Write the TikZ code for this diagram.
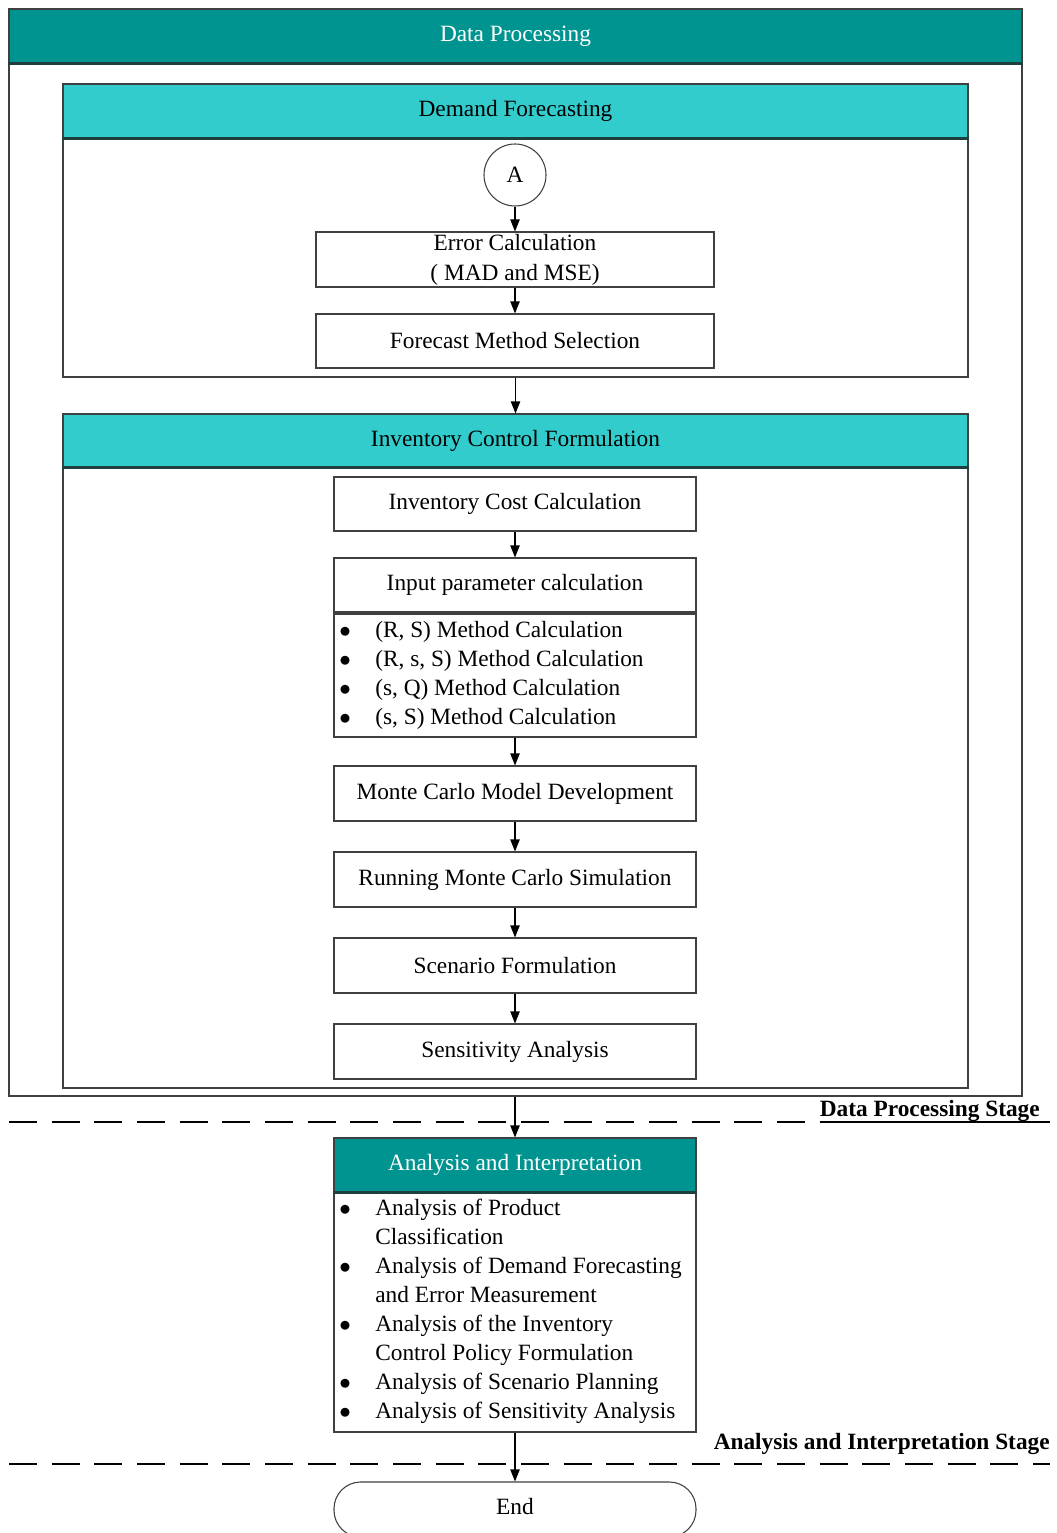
\documentclass[tikz,border=0pt]{standalone}
\usepackage{fontspec}
\setmainfont{Liberation Serif}
\usetikzlibrary{arrows.meta,fit}
\definecolor{tealdark}{HTML}{009490}
\definecolor{teallight}{HTML}{33CCCC}
\definecolor{hdrline}{HTML}{1F3F3F}
\begin{document}
\begin{tikzpicture}[x=0.75pt,y=-0.75pt,
  font=\fontsize{17.5}{21.75}\selectfont,
  frame/.style={draw=black!75, line width=0.8pt, inner sep=0pt},
  box/.style={frame, fill=white},
  txt/.style={label={[align=center]center:#1}},
  wtxt/.style={label={[text=white]center:#1}},
  hdark/.style={frame, fill=tealdark},
  hlight/.style={frame, fill=teallight},
  hline/.style={draw=hdrline, line width=2pt},
  arr/.style={-{Triangle[length=9pt,width=7pt]}, line width=0.8pt, black},
  stagebar/.style={dash pattern=on 21pt off 11pt, line width=1.5pt},
  stagelbl/.style={font=\fontsize{17.5}{21}\selectfont\bfseries, inner sep=0pt}]

\useasboundingbox[fill=white] (0,0) rectangle (1056,1533);

% Data processing container
\node[frame, fit={(9,9)(1022,1096)}] (outer) {};
\node[hdark, fit={(9,9)(1022,63)}, wtxt={Data Processing}] (dph) {};
\draw[hline] (dph.south west) -- (dph.south east);

% Demand forecasting
\node[frame, fill=white, fit={(63,84)(968,377)}] (df) {};
\node[hlight, fit={(63,84)(968,138)}, txt={Demand Forecasting}] (dfh) {};
\draw[hline] (dfh.south west) -- (dfh.south east);
\node[frame, circle, minimum size=46.5pt] (A) at (515,175) {A};
\node[box, fit={(316,232)(714,287)},
  label={[align=center, font=\fontsize{17.5}{22.5}\selectfont]center:{Error Calculation\\( MAD and MSE)}}] (err) {};
\node[box, fit={(316,314)(714,368)}, txt={Forecast Method Selection}] (fc) {};

% Inventory control formulation
\node[frame, fill=white, fit={(63,414)(968,1088)}] (icf) {};
\node[hlight, fit={(63,414)(968,467)}, txt={Inventory Control Formulation}] (icfh) {};
\draw[hline] (icfh.south west) -- (icfh.south east);
\node[box, fit={(334,477)(696,531)}, txt={Inventory Cost Calculation}] (icc) {};
\node[box, fit={(334,558)(696,612)}, txt={Input parameter calculation}] (ipc) {};
\node[box, fit={(334,614)(696,737)}] (bl) {};
\node[anchor=west, inner sep=0pt] (bltext) at (339,675.5) {%
  \begin{tabular}{@{}p{27pt}@{}l@{}}
  $\bullet$ & (R, S) Method Calculation\\
  $\bullet$ & (R, s, S) Method Calculation\\
  $\bullet$ & (s, Q) Method Calculation\\
  $\bullet$ & (s, S) Method Calculation
  \end{tabular}};
\node[box, fit={(334,766)(696,821)}, txt={Monte Carlo Model Development}] (mc) {};
\node[box, fit={(334,852)(696,907)}, txt={Running Monte Carlo Simulation}] (rmc) {};
\node[box, fit={(334,938)(696,993)}, txt={Scenario Formulation}] (sf) {};
\node[box, fit={(334,1024)(696,1079)}, txt={Sensitivity Analysis}] (sa) {};

% Analysis and interpretation
\node[frame, fill=white, fit={(334,1138)(696,1432)}] (an) {};
\node[hdark, fit={(334,1138)(696,1192)}, wtxt={Analysis and Interpretation}] (anh) {};
\draw[hline] (anh.south west) -- (anh.south east);
\node[anchor=west, inner sep=0pt] (antext) at (339,1311.5) {%
  \begin{tabular}{@{}p{27pt}@{}l@{}}
  $\bullet$ & Analysis of Product\\
   & Classification\\
  $\bullet$ & Analysis of Demand Forecasting\\
   & and Error Measurement\\
  $\bullet$ & Analysis of the Inventory\\
   & Control Policy Formulation\\
  $\bullet$ & Analysis of Scenario Planning\\
  $\bullet$ & Analysis of Sensitivity Analysis
  \end{tabular}};

% End
\node[frame, fill=white, rounded corners=20pt, fit={(334,1482)(696,1537)}] (end) {};
\node[inner sep=0pt] (endtxt) at (515,1507) {End};

% Stage separators
\coordinate (s1l) at (9,1122);
\coordinate (s1r) at (1050,1122);
\coordinate (s2l) at (9,1464);
\coordinate (s2r) at (1050,1464);
\draw[stagebar] (s1l) -- (s1r);
\draw[stagebar] (s2l) -- (s2r);
\node[stagelbl, anchor=base east] (dps) at (1040,1116) {Data Processing Stage};
\draw[line width=1.5pt] ([yshift=-4.5pt]dps.base west) -- ([yshift=-4.5pt]dps.base east);
\node[stagelbl, anchor=base east] (ais) at (1050,1449) {Analysis and Interpretation Stage};

% Connectors
\draw[arr] (A) -- (err);
\draw[arr] (err) -- (fc);
\draw[arr] (df) -- (icf);
\draw[arr] (icc) -- (ipc);
\draw[arr] (bl) -- (mc);
\draw[arr] (mc) -- (rmc);
\draw[arr] (rmc) -- (sf);
\draw[arr] (sf) -- (sa);
\draw[arr] (an.north |- outer.south) -- (an.north);
\draw[arr] (an) -- (end);
\end{tikzpicture}
\end{document}
